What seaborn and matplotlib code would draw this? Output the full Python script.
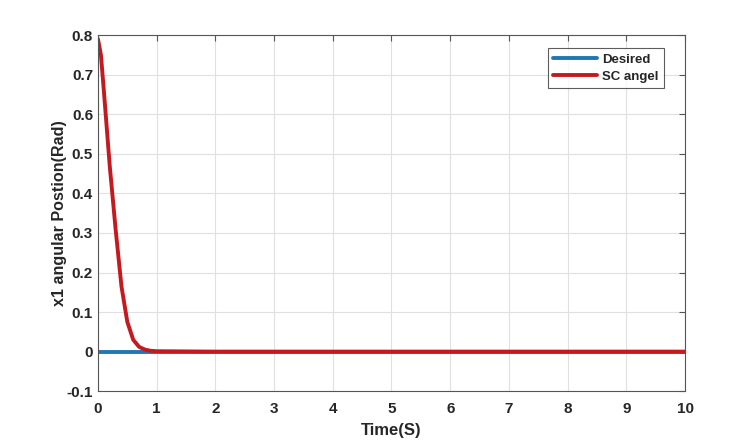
import numpy as np
import pandas as pd
import matplotlib
matplotlib.use('Agg')
import matplotlib.pyplot as plt
import seaborn as sns

# values
time_s = [0.0, 0.05, 0.1, 0.2, 0.3, 0.4, 0.5, 0.6, 0.7, 0.8, 0.9, 1.0, 2.0, 4.0, 6.0, 8.0, 10.0]
sc_angle = [0.79, 0.75, 0.66, 0.47, 0.31, 0.165, 0.075, 0.03, 0.012, 0.005, 0.002, 0.001,
            0.0, 0.0, 0.0, 0.0, 0.0]
desired = [0.0] * len(time_s)

df = pd.DataFrame({'t': time_s * 2,
                   'x1': desired + sc_angle,
                   'series': ['Desired'] * len(time_s) + ['SC angel'] * len(time_s)})

sns.set_style('white')
plt.rcParams['font.family'] = ['Liberation Sans', 'DejaVu Sans']
plt.rcParams['font.weight'] = 'bold'

fig = plt.figure(figsize=(7.56, 4.4), dpi=100)
ax = fig.add_axes([0.1296, 0.111, 0.7765, 0.809])

sns.lineplot(data=df, x='t', y='x1', hue='series',
             palette={'Desired': '#1f77b4', 'SC angel': '#c41a1f'},
             linewidth=2.8, ax=ax, legend=True)

ax.set_xlim(0, 10)
ax.set_ylim(-0.1, 0.8)
ax.set_xticks(np.arange(0, 11, 1))
ax.set_yticks([-0.1, 0, 0.1, 0.2, 0.3, 0.4, 0.5, 0.6, 0.7, 0.8])
ax.set_yticklabels(['-0.1', '0', '0.1', '0.2', '0.3', '0.4', '0.5', '0.6', '0.7', '0.8'])
ax.grid(True, color='#e0e0e0', linewidth=0.8)
ax.tick_params(direction='in', top=True, right=True, length=4, color='#555555',
               labelsize=11)
ax.tick_params(axis='x', pad=7.5)
ax.tick_params(axis='y', pad=3.5)
for lab in ax.get_xticklabels() + ax.get_yticklabels():
    lab.set_fontweight('bold')
for sp in ax.spines.values():
    sp.set_color('#555555')
    sp.set_linewidth(0.8)

ax.set_xlabel('Time(S)', fontsize=12, fontweight='bold', labelpad=5)
ax.set_ylabel('x1 angular Postion(Rad)', fontsize=11.6, fontweight='bold', labelpad=0)

leg = ax.legend(loc='upper right', bbox_to_anchor=(0.964, 0.963), borderaxespad=0,
                frameon=True, fancybox=False, edgecolor='#333333', fontsize=9.5,
                handlelength=3.3, handletextpad=0.4, borderpad=0.4, labelspacing=0.35)
for t in leg.get_texts():
    t.set_fontweight('bold')
leg.get_frame().set_linewidth(0.8)

fig.savefig('out.png', dpi=100)
